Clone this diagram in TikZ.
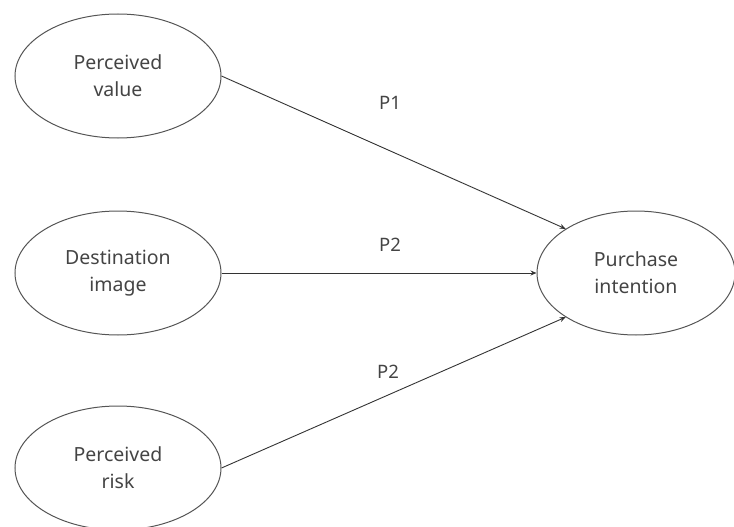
\documentclass[tikz,border=0pt]{standalone}
\usepackage{fontspec}
\setmainfont{Noto Sans}
\usetikzlibrary{shapes.geometric,arrows.meta}
\definecolor{ink}{HTML}{444444}
\definecolor{edge}{HTML}{555555}
\begin{document}
\begin{tikzpicture}[x=1pt,y=-1pt,
  oval/.style={draw=edge,line width=1pt,ellipse,minimum width=206pt,minimum height=124pt,inner sep=0pt,
    align=center,text=ink,font=\fontsize{19.5}{27}\selectfont},
  conn/.style={draw=black!80,line width=0.9pt,-{Stealth[length=6pt,width=5pt]}},
  lbl/.style={text=ink,font=\fontsize{18.5}{22}\selectfont}]
\useasboundingbox (0,0) rectangle (734,527);
\node[oval] (pv) at (118,76) {Perceived\\value};
\node[oval] (di) at (118,273) {Destination\\image};
\node[oval] (pr) at (118,468) {Perceived\\risk};
\node[oval,minimum width=198pt] (pi) at (636,273) {Purchase\\intention};
\draw[conn] (pv.east) -- (pi.north west);
\draw[conn] (di.east) -- (pi.west);
\draw[conn] (pr.east) -- (pi.south west);
\node[lbl] (l1) at (390,103) {P1};
\node[lbl] (l2) at (390,245) {P2};
\node[lbl] (l3) at (388,372) {P2};
\end{tikzpicture}
\end{document}
